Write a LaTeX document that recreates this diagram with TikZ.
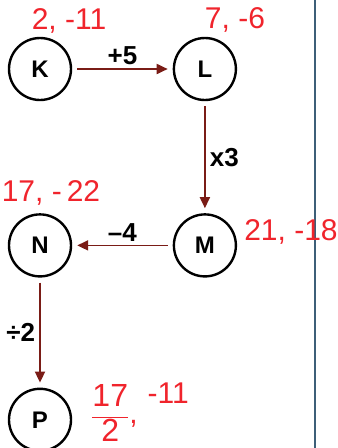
\documentclass[tikz,border=0pt]{standalone}
\usepackage{fontspec}
\setmainfont{Liberation Sans}
\usepackage{tikz}
\usetikzlibrary{arrows.meta,positioning}
\definecolor{arrowred}{HTML}{7A1C16}
\definecolor{penred}{HTML}{F0242C}
\definecolor{rulebl}{HTML}{3D5F78}

\begin{document}
\begin{tikzpicture}[x=1pt,y=-1pt,node distance=112pt and 100.5pt, state/.style={circle,draw,line width=2.4pt,minimum size=62pt,inner sep=0pt,font=\fontsize{24}{24}\selectfont\bfseries}, arr/.style={-{Triangle[length=11pt,width=10pt]},line width=1.8pt,draw=arrowred,shorten >=5pt,shorten <=5pt}, op/.style={font=\fontsize{26}{26}\selectfont\bfseries,text=black,inner sep=2pt}, pen/.style={text=penred,inner sep=1pt,font=\fontsize{30}{30}\selectfont}]
\useasboundingbox (0,0) rectangle (338,448);
\draw[rulebl,line width=2.2pt] (315,0) -- (315,448);
\node[state] (K) at (40,69) {K};
\node[state,right=of K] (L) {L};
\node[state,below=of L] (M) {M};
\node[state,left=of M] (N) {N};
\node[state,below=110pt of N] (P) {P};
\draw[arr] (K) -- node[op,above=1pt]{+5} (L);
\draw[arr] (L) -- node[op,right=2pt]{x3} (M);
\draw[arr] (M) -- node[op,above=1pt]{–4} (N);
\draw[arr] (N) -- node[op,left=2pt]{÷2} (P);
% values written in by hand
\node[pen] (kval) at (69,21) {2,\ -11};
\node[pen] (lval) at (235,20) {7,\ -6};
\node[pen] (nval) at (51,193) {17,\ -\,22};
\node[pen] (mval) at (291,232) {21,\ -18};
\node[pen] (pval) at (140,412) {{\fontsize{32}{32}\selectfont$\displaystyle\frac{\mbox{17}}{\mbox{2}}$},\hspace{10pt}\raisebox{20pt}{\fontsize{30}{30}\selectfont-11}};
\end{tikzpicture}
\end{document}
